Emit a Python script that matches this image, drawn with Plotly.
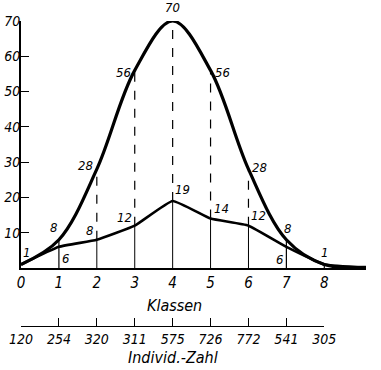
import plotly.graph_objects as go

# ---- data ----
klassen = [0, 1, 2, 3, 4, 5, 6, 7, 8]
upper = [1, 8, 28, 56, 70, 56, 28, 8, 1]
lower = [1, 6, 8, 12, 19, 14, 12, 6, 1]
tail_x = 9.1
tail_y = 0.2
individ = ["120", "254", "320", "311", "575", "726", "772", "541", "305"]
y_ticks = [10, 20, 30, 40, 50, 60, 70]

FONT = "DejaVu Sans Condensed, Liberation Sans Narrow, Arial Narrow, sans-serif"

fig = go.Figure()

# vertical helper lines
for k, u, l in zip(klassen, upper, lower):
    if k == 0:
        continue
    if k in (1, 7, 8):
        fig.add_shape(type="line", x0=k, x1=k, y0=0, y1=u, xref="x", yref="y",
                      line=dict(color="black", width=1.2))
    else:
        fig.add_shape(type="line", x0=k, x1=k, y0=0, y1=l, xref="x", yref="y",
                      line=dict(color="black", width=1))
        fig.add_shape(type="line", x0=k, x1=k, y0=l, y1=u, xref="x", yref="y",
                      line=dict(color="black", width=1.2, dash="dash"))

fig.add_trace(go.Scatter(x=klassen + [tail_x], y=upper + [tail_y], mode="lines",
                         line=dict(color="black", width=3.2, shape="spline", smoothing=1.0),
                         cliponaxis=False, showlegend=False, hoverinfo="skip"))
fig.add_trace(go.Scatter(x=klassen + [tail_x], y=lower + [tail_y], mode="lines",
                         line=dict(color="black", width=2.6, shape="spline", smoothing=0.35),
                         cliponaxis=False, showlegend=False, hoverinfo="skip"))

# invisible trace for second axis
fig.add_trace(go.Scatter(x=klassen, y=[0] * len(klassen), xaxis="x2", yaxis="y2",
                         mode="markers", marker=dict(opacity=0), showlegend=False,
                         hoverinfo="skip"))

lab_font = dict(family=FONT, size=13, color="black", style="italic")

# upper labels: (xanchor, yanchor, xshift, yshift)
up_pos = {
    1: ("right", "bottom", 0, 3),
    2: ("right", "middle", -2, 4),
    3: ("right", "middle", -2, -2),
    4: ("center", "bottom", 0, 4),
    5: ("left", "middle", 2, -2),
    6: ("left", "middle", 2, 2),
    7: ("center", "bottom", 1, 2),
    8: ("center", "bottom", 0, 2),
}
for k, u in zip(klassen, upper):
    if k == 0:
        continue
    xa, ya, xs, ys = up_pos[k]
    fig.add_annotation(x=k, y=u, text=str(u), showarrow=False, xanchor=xa, yanchor=ya,
                       xshift=xs, yshift=ys, font=lab_font)

low_pos = {
    0: ("left", "bottom", 0, 2),
    1: ("left", "top", 1, -2),
    2: ("right", "bottom", -2, 0),
    3: ("right", "bottom", -1, -1),
    4: ("left", "bottom", 0, 2),
    5: ("left", "bottom", 1, 1),
    6: ("left", "bottom", 1, 1),
    7: ("right", "top", -1, -3),
}
for k, l in zip(klassen, lower):
    if k not in low_pos:
        continue
    xa, ya, xs, ys = low_pos[k]
    fig.add_annotation(x=k, y=l, text=str(l), showarrow=False, xanchor=xa, yanchor=ya,
                       xshift=xs, yshift=ys, font=lab_font)

H = 370
top = 21
axis2_y = 326
main_bottom = 268
paper_h = axis2_y - top

fig.add_annotation(x=4.05, xref="x", y=(axis2_y - 305) / paper_h, yref="paper",
                   text="Klassen", showarrow=False,
                   font=dict(family=FONT, size=16, color="black", style="italic"),
                   yanchor="middle")
fig.add_annotation(x=4.0, xref="x2", y=(axis2_y - 357) / paper_h, yref="paper",
                   text="Individ.-Zahl", showarrow=False,
                   font=dict(family=FONT, size=16, color="black", style="italic"),
                   yanchor="middle")

fig.update_layout(
    width=381, height=H,
    margin=dict(l=21, r=15, t=top, b=H - axis2_y, pad=0),
    plot_bgcolor="white", paper_bgcolor="white",
    xaxis=dict(range=[0, tail_x], domain=[0, 1], anchor="y", showline=True,
               automargin=False,
               linecolor="black", linewidth=2, showgrid=False, zeroline=False,
               tickvals=klassen, ticktext=[str(k) for k in klassen],
               ticks="",
               tickfont=dict(family=FONT, size=15, color="black", style="italic")),
    yaxis=dict(range=[0, 70], domain=[(axis2_y - main_bottom) / paper_h, 1],
               automargin=False,
               anchor="x", showline=True, linecolor="black", linewidth=2,
               showgrid=False, zeroline=False, tickvals=y_ticks,
               ticks="inside", ticklen=8, tickwidth=1.3, tickcolor="black",
               ticklabelstandoff=-4,
               tickfont=dict(family=FONT, size=14, color="black", style="italic")),
    xaxis2=dict(range=[0, 8], domain=[0, 8 / tail_x], anchor="y2", showline=True,
                automargin=False,
                linecolor="black", linewidth=1.3, showgrid=False, zeroline=False,
                tickvals=klassen, ticktext=individ, ticks="inside", ticklen=8,
                tickwidth=1.2, tickcolor="black",
                tickfont=dict(family=FONT, size=14, color="black", style="italic")),
    yaxis2=dict(domain=[0, 0.001], anchor="x2", visible=False, range=[0, 1],
                automargin=False),
)

fig.write_html("out.html", config={"displayModeBar": False},
               post_script="document.body.style.margin='0';document.body.style.overflow='hidden';")
